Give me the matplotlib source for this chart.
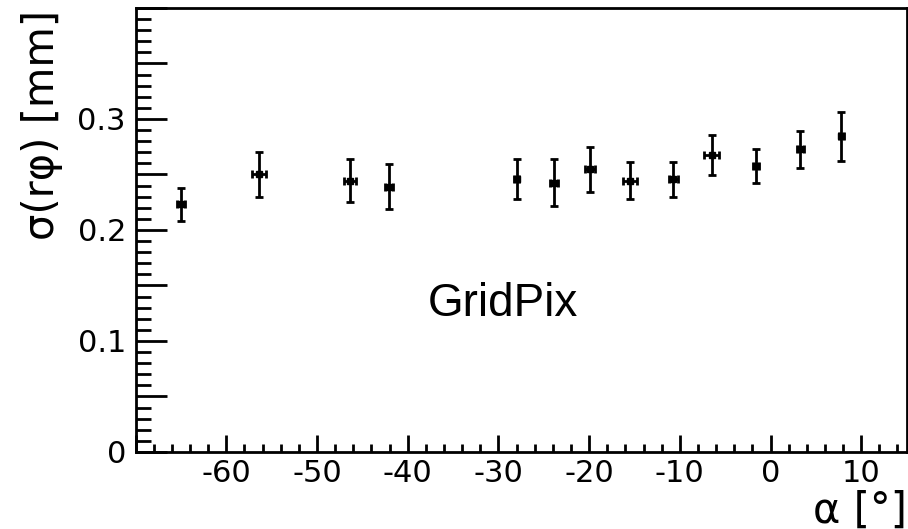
import matplotlib

matplotlib.use("Agg")
import matplotlib.pyplot as plt
from matplotlib.ticker import MultipleLocator, FuncFormatter

# track angle alpha [deg] and r-phi resolution [mm]
alpha = [-65.0, -56.4, -46.4, -42.1, -28.0, -23.9, -19.9, -15.5, -10.7, -6.5, -1.6, 3.3, 7.8]
alpha_err = [0.45, 0.75, 0.65, 0.45, 0.3, 0.45, 0.5, 0.75, 0.45, 0.8, 0.35, 0.35, 0.3]
sigma_rphi = [0.223, 0.250, 0.2445, 0.239, 0.2455, 0.2425, 0.2545, 0.2445, 0.2455, 0.2675, 0.2575, 0.2725, 0.2845]
sigma_err = [0.0145, 0.020, 0.0195, 0.020, 0.018, 0.021, 0.020, 0.017, 0.016, 0.018, 0.015, 0.017, 0.022]

plt.rcParams["axes.unicode_minus"] = False


def main():
    fig = plt.figure(figsize=(9.08, 5.29), dpi=100)
    ax = fig.add_axes([0.1494, 0.1456, 0.8490, 0.8394])

    ax.errorbar(alpha, sigma_rphi, xerr=alpha_err, yerr=sigma_err, fmt="s", color="black",
                markersize=4, elinewidth=2, capsize=3, capthick=2)

    ax.set_xlim(-70, 15)
    ax.set_ylim(0, 0.4)

    ax.xaxis.set_major_locator(MultipleLocator(10))
    ax.xaxis.set_minor_locator(MultipleLocator(2))
    ax.yaxis.set_major_locator(MultipleLocator(0.05))
    ax.yaxis.set_minor_locator(MultipleLocator(0.01))

    # label only -60..10 on x and 0..0.3 in steps of 0.1 on y
    def xlabel_fmt(v, pos):
        return "" if v < -65 else f"{v:.0f}"

    def ylabel_fmt(v, pos):
        k = round(v * 100)
        if k % 10 or k > 30:
            return ""
        return "0" if k == 0 else f"{v:.1f}"

    ax.xaxis.set_major_formatter(FuncFormatter(xlabel_fmt))
    ax.yaxis.set_major_formatter(FuncFormatter(ylabel_fmt))

    ax.tick_params(which="both", direction="in", top=False, right=False, labelsize=22, width=2)
    ax.tick_params(axis="y", which="major", length=22)
    ax.tick_params(axis="y", which="minor", length=11)
    ax.tick_params(axis="x", which="major", length=12)
    ax.tick_params(axis="x", which="minor", length=6)
    ax.tick_params(axis="x", pad=5)
    ax.tick_params(axis="y", pad=7)

    for side in ax.spines.values():
        side.set_linewidth(2)

    ax.set_ylabel("σ(rφ) [mm]", fontsize=30, loc="top")
    ax.yaxis.set_label_coords(-0.094, 0.995)
    ax.set_xlabel("α [°]", fontsize=30, loc="right", labelpad=1)

    ax.text(-29.5, 0.133, "GridPix", fontsize=33, family="Liberation Sans",
            ha="center", va="center")

    fig.savefig("out.png", dpi=100)
    plt.close(fig)


if __name__ == "__main__":
    main()
